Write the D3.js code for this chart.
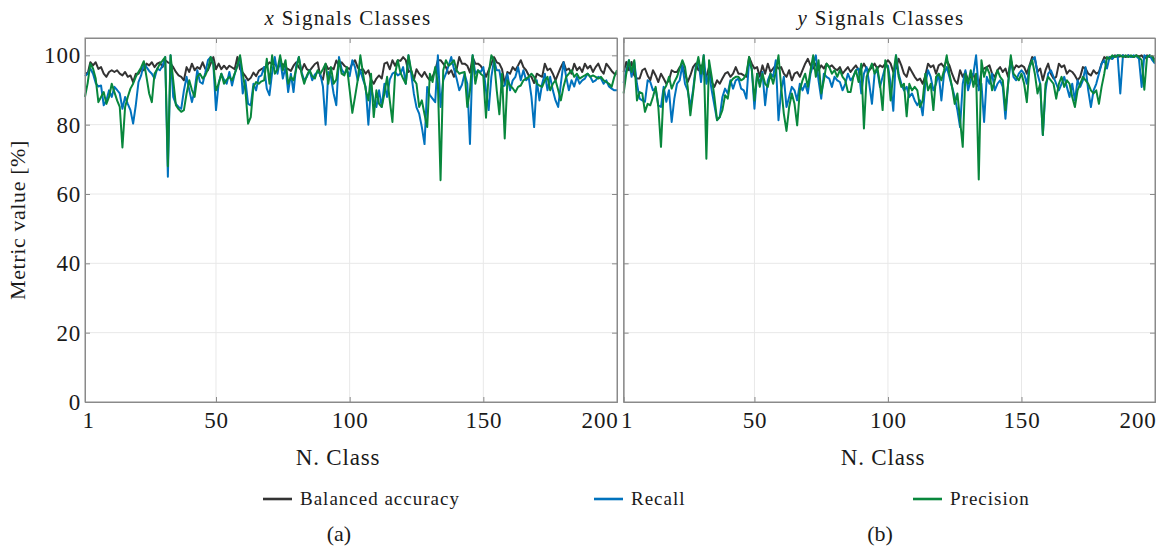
<!DOCTYPE html>
<html>
<head>
<meta charset="utf-8">
<script src="https://cdn.jsdelivr.net/npm/d3@7/dist/d3.min.js"></script>
<style>
  body { margin: 0; background: #fff; }
  svg text { font-family: "Liberation Serif", "DejaVu Serif", serif; fill: #1a1a1a; }
</style>
</head>
<body>
<svg width="1167" height="549"></svg>
<script>
//  categories and ticks
var classes = d3.range(1, 201);
var xTicks = [1, 50, 100, 150, 200];
var gridX = [50, 100, 150];
var yTicks = [0, 20, 40, 60, 80, 100];
var seriesNames = ["Balanced accuracy", "Recall", "Precision"];

//  x signals (panel a)
var xBalanced = [
  95, 94.7, 98, 97.1, 98, 96.1, 96.6, 94.7, 93.8, 95.2,
  95.7, 95.2, 95.7, 94.7, 94.2, 95.2, 93.8, 94.2, 92.3, 94.7,
  94.7, 96.1, 95.7, 97.6, 97.1, 98, 96.6, 97.6, 98, 96.6,
  98.6, 98, 97.6, 96.6, 95.2, 94.2, 93.8, 92.8, 96.6, 95.2,
  97.6, 95.7, 96.6, 96.1, 98, 96.1, 95.7, 97.6, 99.5, 96,
  97.6, 96, 97, 96, 97, 96.5, 96, 99.5, 96, 95,
  94, 92.8, 93.5, 95, 94, 95.5, 96, 96.5, 97, 98,
  97.5, 97.5, 96.5, 97, 97.5, 96.5, 96, 95.5, 97, 98,
  96.5, 95.5, 97.5, 96, 95.5, 96.5, 97.5, 98, 94, 93,
  97.5, 96, 96.5, 96, 98.5, 97, 98, 97, 96.5, 96,
  97.6, 98.6, 96.5, 95.7, 96, 94.7, 95.7, 93, 91.8, 93.3,
  94.2, 93.3, 97.6, 98, 96, 98.6, 97, 98.6, 98.4, 99.5,
  98.6, 95.2, 95.7, 92.8, 96, 94.7, 93.8, 95.2, 93.8, 92.8,
  93.8, 95.7, 98.6, 98.6, 97.6, 96.6, 94.7, 95.7, 93.8, 96,
  99.5, 97.6, 97.6, 97, 95, 99.5, 97.6, 97.6, 97, 95.7,
  93.8, 95.7, 97.6, 99.5, 98, 97.6, 96, 91.8, 95.2, 94.7,
  96.6, 95.7, 97.1, 98.6, 96.6, 95.7, 94.2, 93.8, 92, 94.7,
  94.2, 93.8, 97.6, 95.7, 96.2, 94.7, 92.8, 94.7, 96.6, 98.1,
  95.7, 96.2, 94.7, 97.6, 95.7, 96.6, 95.2, 97.6, 96.2, 97,
  95.2, 96.6, 97.6, 95.7, 94.7, 97.6, 96.6, 95.5, 94.7, 94.7
];
var xRecall = [
  94, 94.7, 96.2, 94.7, 92, 91, 91.3, 85.6, 87, 89.9,
  88, 90.9, 90, 89, 84.6, 88, 86, 84.2, 80.3, 85.6,
  92.3, 94.2, 97.6, 96.6, 95.5, 94.7, 93.3, 96.2, 95.7, 97,
  99.5, 65, 100, 88, 86, 85.1, 84.6, 89.9, 93.8, 90,
  86.5, 89.9, 95.7, 92.3, 91.8, 95, 98.6, 99.5, 97.6, 84.2,
  92, 94.7, 93, 91.8, 95.2, 91.3, 94.7, 97, 99.5, 89,
  92.8, 86, 85.6, 91.8, 89.9, 93.8, 94.2, 96.6, 90.4, 88.5,
  95, 99.5, 94.7, 99, 93.3, 96.6, 89.4, 94.7, 89.4, 97,
  99.5, 95.2, 92.8, 93.8, 95.7, 92.8, 94.5, 95.2, 94.7, 91,
  80, 95.2, 93.8, 89, 85.6, 99.5, 96, 94.7, 95.7, 94,
  98.6, 96.6, 92.8, 95.7, 93, 90.9, 80, 90.9, 87, 85.1,
  89.9, 85.1, 91.8, 88, 93, 94.7, 95.2, 94.2, 94.7, 96.6,
  91.8, 100, 94.7, 89, 85, 83.2, 79.3, 74.4, 90.9, 88.5,
  87.5, 86.5, 100, 85.1, 92.8, 94.7, 97, 99.5, 96.1, 93.3,
  89.9, 91.5, 94.7, 91.8, 74.4, 100, 94.7, 95.7, 95.2, 96.6,
  89.9, 84.2, 93.8, 98.6, 95.7, 95.7, 91, 91.3, 94.7, 89.9,
  92.8, 93.8, 96.6, 92.8, 95.7, 92.8, 93.5, 88, 79.3, 92.8,
  87, 91.8, 94.7, 89.9, 93.8, 89.9, 87, 85.1, 91.8, 98,
  93.8, 89.9, 92.8, 91, 93.8, 91.8, 92.8, 93.3, 94.7, 93.8,
  92.3, 92.8, 93.8, 93.3, 91.8, 92.8, 91, 90.4, 89.9, 89.9
];
var xPrecision = [
  88, 92, 97.6, 96.2, 93.3, 86.5, 88, 89.4, 86, 88,
  91.8, 89.4, 87, 85.1, 73.4, 85.1, 88, 90.4, 91.8, 93.8,
  95.2, 96.5, 98.3, 93.8, 89, 86.5, 94.7, 96, 97.6, 98.5,
  99.5, 68, 100, 92.8, 85.6, 84.5, 83.7, 84.2, 89, 92.8,
  90, 88, 93.8, 94.7, 93.3, 94.2, 96, 99.5, 97.6, 89.9,
  91.8, 94.7, 91.8, 93, 93.8, 92.8, 94.7, 97, 100, 94.7,
  89.9, 80.3, 82.2, 90.9, 92.3, 91.8, 92.5, 92.8, 99, 91.8,
  100, 94.7, 96, 100, 95.7, 98.6, 91.8, 93.8, 92.8, 96,
  99.5, 94.7, 91.8, 94.2, 95.7, 94, 93.3, 95.7, 94.7, 96,
  97.6, 91.8, 96.6, 91.8, 93, 98.6, 94.7, 94.2, 96.6, 90,
  83.4, 88, 92.8, 100, 94.7, 90, 87, 94.7, 82.2, 89.9,
  86, 85.1, 89, 93.8, 87, 80.8, 94.7, 98.6, 95, 93.3,
  91.8, 100, 95.7, 93, 91.8, 85.1, 87, 83, 79.3, 94.7,
  92.3, 96.6, 91.8, 64, 95.7, 98.6, 97, 97.6, 98.6, 95.7,
  94.7, 95, 95.2, 85.1, 89.9, 100, 91.8, 95.7, 94.7, 94,
  82, 94.7, 100, 98.6, 90, 83, 94.7, 76, 92.8, 91.3,
  90.5, 89.4, 90.9, 91.3, 92.8, 93.3, 93.8, 94.7, 93.8, 91.8,
  91.3, 90.9, 92.8, 93.8, 89.9, 91.8, 92.8, 90, 87, 90.9,
  93.8, 94.7, 95.7, 93.8, 94.7, 93.3, 93.8, 94.2, 94.7, 93.8,
  94.2, 93.8, 93.3, 93.8, 92.8, 92.3, 91.8, 90.9, 93.8, 95.7
];

//  y signals (panel b)
var yBalanced = [
  95.2, 98.1, 95.7, 98.1, 94.2, 93.3, 93.3, 95.7, 96.2, 94.2,
  92.8, 95.7, 94.2, 92.3, 94.7, 93.3, 91.8, 92.8, 95.7, 95.2,
  95.2, 96.6, 97.1, 94.7, 92.3, 94.2, 96.6, 97.6, 95.7, 97.1,
  94.7, 93.8, 96.6, 92.3, 90.9, 92.8, 91.8, 93.3, 94.7, 95.2,
  93.8, 94.7, 96.6, 94.7, 94.7, 94.2, 93.8, 99.5, 97.6, 96.2,
  96.6, 93.8, 97.1, 94.7, 97.6, 95.2, 96.2, 97.1, 96.2, 96.6,
  94.7, 93.8, 95.7, 92.8, 94.7, 95.2, 93.8, 95.7, 97.6, 99,
  97.1, 96.2, 97.6, 95.7, 97.1, 96.2, 97.6, 96.6, 97.1, 96.2,
  95.7, 96.6, 94.7, 95.7, 96.6, 95.2, 96.2, 97.1, 95.7, 96.2,
  97.6, 96.2, 95.7, 96.6, 97.6, 96.2, 97.1, 96.6, 97.6, 98.6,
  97.6, 95.2, 96.2, 99, 97.1, 94.7, 93.8, 96.6, 95.2, 93.8,
  92.8, 93.3, 91.8, 94.2, 97.6, 96.6, 97.1, 94.7, 97.1, 97.6,
  96.6, 98.6, 97.1, 94.7, 92.8, 91.8, 95.7, 93.8, 95.2, 92.8,
  93.8, 94.7, 91.8, 90.9, 95.2, 96.2, 96.6, 97.1, 94.7, 93.8,
  95.7, 96.6, 95.2, 96.2, 93.8, 98.6, 95.7, 97.1, 96.6, 97.1,
  96.6, 94.7, 97.1, 99.5, 99, 95.2, 96.2, 92.8, 95.7, 97.6,
  94.7, 93.3, 93.8, 97.6, 96.6, 97.1, 94.7, 95.7, 95.2, 94.2,
  92.8, 93.8, 96.6, 96.2, 94.7, 94.2, 95.7, 94.7, 95.2, 97.6,
  99.5, 99, 99.5, 99, 100, 99.5, 99.7, 100, 99.5, 100,
  99.7, 99.5, 100, 99.7, 100, 99, 100, 99.5, 99.7, 98.6
];
var yRecall = [
  92, 95.7, 98.6, 93.8, 98.1, 91.8, 87.5, 87, 86.6, 92.8,
  92.3, 89.9, 90.4, 85.6, 85.1, 90.9, 86.6, 89.9, 80.8, 87.5,
  91.8, 92.8, 97.1, 91.8, 89.9, 85.1, 89.9, 96.6, 98.6, 92.3,
  100, 91.8, 94.7, 89.9, 85.6, 81.3, 82.2, 88, 90.4, 89,
  92.8, 90.4, 92.8, 93.3, 90.4, 89.9, 87.5, 98.6, 96, 84.6,
  94.7, 91.8, 95.2, 85.6, 92.8, 94.7, 93.8, 98.6, 81.3, 89.9,
  93.8, 85.1, 88, 90.9, 89.9, 87, 91.8, 89.9, 91.8, 89,
  94.7, 97.6, 100, 92.8, 87.5, 94.7, 93.8, 93.3, 90.9, 93.8,
  92.8, 92.3, 89.9, 91.8, 94.7, 92.8, 93.8, 95.7, 96.2, 89,
  94.7, 96.6, 91.8, 86, 94.7, 95.7, 90.9, 93.8, 96.6, 97,
  91.8, 84, 100, 94.7, 91.8, 89.9, 90.9, 88, 89, 87,
  85.6, 87, 82.7, 91.8, 95.7, 93.8, 89.9, 91.8, 94.7, 87,
  94.7, 96.6, 93.8, 90.9, 88, 84.2, 79.3, 91.8, 95.7, 89.9,
  92.8, 94.7, 100, 89.9, 91.8, 80.8, 93.8, 91.8, 94.7, 89.9,
  91.8, 92.8, 90.9, 81.7, 91.8, 99, 93.8, 92.8, 94.7, 95.7,
  94.7, 91.8, 96.6, 98.6, 99.5, 94.7, 91.8, 77, 89.9, 94.7,
  95.7, 93.8, 91.8, 89.9, 91.8, 93.8, 90.9, 88, 91.8, 87,
  92.8, 90.9, 92.8, 96.6, 89.9, 85.1, 89.9, 91.8, 94.7, 97.6,
  98.6, 96.2, 99.5, 99, 99.7, 100, 89, 100, 99.7, 100,
  99.5, 100, 99.7, 99, 90.9, 100, 99.5, 100, 98.6, 97.6
];
var yPrecision = [
  89, 94.7, 98.6, 95.2, 98.6, 87, 89.4, 89, 83.7, 86,
  85.6, 88, 90.9, 85.1, 73.6, 89.9, 91.3, 93.8, 90.4, 92.3,
  93.8, 96.2, 98.6, 96.6, 90.9, 82.7, 89, 95.7, 99.5, 94.7,
  100, 70.2, 98.6, 93.8, 88, 81.3, 82.2, 84.2, 88.5, 87.5,
  92.3, 93.3, 93.8, 93.8, 92.8, 93.3, 94.7, 99.5, 96, 87,
  94.7, 90.9, 94.7, 91.8, 90.9, 94.7, 91.8, 95.2, 100, 90.9,
  83.2, 78.2, 85.1, 89, 86, 79.8, 89.9, 92.8, 94.7, 90.9,
  95.7, 100, 93.8, 98.6, 89, 92.8, 97.6, 96.6, 94.7, 95.7,
  93.8, 95.7, 93.8, 92.8, 89.4, 89.4, 93.8, 95.7, 92.3, 97.6,
  78.9, 93.8, 95.7, 97.6, 94.7, 96.6, 91.8, 84.2, 98.6, 96,
  87, 94.7, 100, 93.8, 90.9, 91.8, 82.4, 91.8, 89.9, 90.9,
  89.9, 85.1, 87, 94.7, 89.9, 91.8, 84.2, 93.8, 94.7, 92.8,
  95.7, 100, 94.7, 90.9, 86, 89, 81.3, 73.6, 94.7, 91.8,
  95.7, 90.9, 94.7, 64.2, 98.6, 93.8, 96.6, 94.7, 89.9, 92.8,
  95.7, 93.8, 92.8, 84.2, 91.8, 100, 94.7, 93.8, 92.8, 94.7,
  91.8, 86.5, 96.6, 98.6, 94.7, 89, 91.8, 77, 91.8, 93.8,
  92.8, 91.8, 87.5, 91.8, 93.8, 90.9, 92.8, 91.8, 88, 85.1,
  89.9, 91.8, 93.8, 92.8, 91.8, 89.9, 89, 89.9, 86, 90.9,
  94.7, 99.5, 99, 100, 99.5, 100, 100, 99.5, 100, 99.5,
  100, 99.5, 100, 99.5, 98.6, 90.1, 99.5, 100, 99.7, 98
];

//  svg and layout
var svg = d3.select("svg");
var plotTop = 38;
var plotBottom = 402;
var colors = ["#333333", "#0072BD", "#08873c"];
var axisColor = "#8a8a8a";
var gridColor = "#e8e8e8";

var panels = [
  { left: 85, right: 617, sym: "x", series: [xBalanced, xRecall, xPrecision],
    titleX: 348, labelX: 338, subX: 339, sub: "(a)", yLabels: true },
  { left: 623.6, right: 1155, sym: "y", series: [yBalanced, yRecall, yPrecision],
    titleX: 881, labelX: 883, subX: 880, sub: "(b)", yLabels: false }
];

var y = d3.scaleLinear().domain([0, 105]).range([plotBottom, plotTop]);

panels.forEach(function(p) {
  var x = d3.scaleLinear().domain([1, 200]).range([p.left, p.right]);
  var g = svg.append("g");

  //  grid
  g.append("g").selectAll("line").data(yTicks.filter(function(d) { return d > 0; }))
    .enter().append("line")
      .attr("x1", p.left).attr("x2", p.right)
      .attr("y1", function(d) { return y(d); }).attr("y2", function(d) { return y(d); })
      .attr("stroke", gridColor).attr("stroke-width", 1);
  g.append("g").selectAll("line").data(gridX)
    .enter().append("line")
      .attr("x1", function(d) { return x(d); }).attr("x2", function(d) { return x(d); })
      .attr("y1", plotTop).attr("y2", plotBottom)
      .attr("stroke", gridColor).attr("stroke-width", 1);

  //  lines
  var line = d3.line()
    .x(function(d, i) { return x(classes[i]); })
    .y(function(d) { return y(d); });
  p.series.forEach(function(s, k) {
    g.append("path")
      .datum(s)
      .attr("fill", "none")
      .attr("stroke", colors[k])
      .attr("stroke-width", 2)
      .attr("stroke-linejoin", "round")
      .attr("d", line);
  });

  //  axes (ticks inward on all four sides)
  var bottomAxis = g.append("g")
    .attr("transform", "translate(0," + plotBottom + ")")
    .call(d3.axisBottom(x).tickValues(xTicks).tickSize(-5).tickPadding(10));
  bottomAxis.selectAll("text")
    .style("font-size", "23px")
    .style("letter-spacing", "0.8px")
    .attr("text-anchor", function(d, i) { return i === 0 ? "start" : (i === xTicks.length - 1 ? "end" : "middle"); })
    .attr("dx", function(d, i) { return i === 0 ? -3 : (i === xTicks.length - 1 ? 1 : 0); });
  g.append("g")
    .attr("transform", "translate(0," + plotTop + ")")
    .call(d3.axisTop(x).tickValues(xTicks).tickSize(-5).tickFormat(""));
  var leftAxis = g.append("g")
    .attr("transform", "translate(" + p.left + ",0)")
    .call(d3.axisLeft(y).tickValues(yTicks).tickSize(-5).tickPadding(4)
      .tickFormat(p.yLabels ? d3.format("d") : ""));
  leftAxis.selectAll("text").style("font-size", "23px").style("letter-spacing", "0.8px");
  g.append("g")
    .attr("transform", "translate(" + p.right + ",0)")
    .call(d3.axisRight(y).tickValues(yTicks).tickSize(-5).tickFormat(""));

  g.selectAll(".domain").attr("stroke", axisColor);
  g.selectAll(".tick line").attr("stroke", axisColor);
  g.selectAll(".tick line").filter(function(d) { return d === 1 || d === 200; }).remove();
  g.selectAll("text").attr("fill", "#1a1a1a").attr("font-family", null);

  //  box outline
  g.append("rect")
    .attr("x", p.left).attr("y", plotTop)
    .attr("width", p.right - p.left).attr("height", plotBottom - plotTop)
    .attr("fill", "none").attr("stroke", axisColor).attr("stroke-width", 1);

  //  title
  var t = svg.append("text")
    .attr("x", p.titleX).attr("y", 25)
    .attr("text-anchor", "middle")
    .style("font-size", "21px")
    .style("letter-spacing", "1.3px");
  t.append("tspan").attr("font-style", "italic").text(p.sym);
  t.append("tspan").text(" Signals Classes");

  //  x label and sub caption
  svg.append("text")
    .attr("x", p.labelX).attr("y", 465)
    .attr("text-anchor", "middle")
    .style("font-size", "23px")
    .style("letter-spacing", "0.8px")
    .text("N. Class");
  svg.append("text")
    .attr("x", p.subX).attr("y", 541)
    .attr("text-anchor", "middle")
    .style("font-size", "22px")
    .text(p.sub);
});

//  y label
svg.append("text")
  .attr("transform", "translate(25,220) rotate(-90)")
  .attr("text-anchor", "middle")
  .style("font-size", "22px")
  .style("letter-spacing", "0.6px")
  .text("Metric value [%]");

//  legend
var legendX = [263, 594, 913];
var legend = svg.append("g").selectAll("g").data(seriesNames)
  .enter().append("g")
    .attr("transform", function(d, i) { return "translate(" + legendX[i] + ",499)"; });
legend.append("line")
  .attr("x1", 0).attr("x2", 29).attr("y1", 0).attr("y2", 0)
  .attr("stroke", function(d, i) { return colors[i]; })
  .attr("stroke-width", 2.6);
legend.append("text")
  .attr("x", 37).attr("y", 6)
  .style("font-size", "19px")
  .style("letter-spacing", "1px")
  .text(function(d) { return d; });
</script>
</body>
</html>
